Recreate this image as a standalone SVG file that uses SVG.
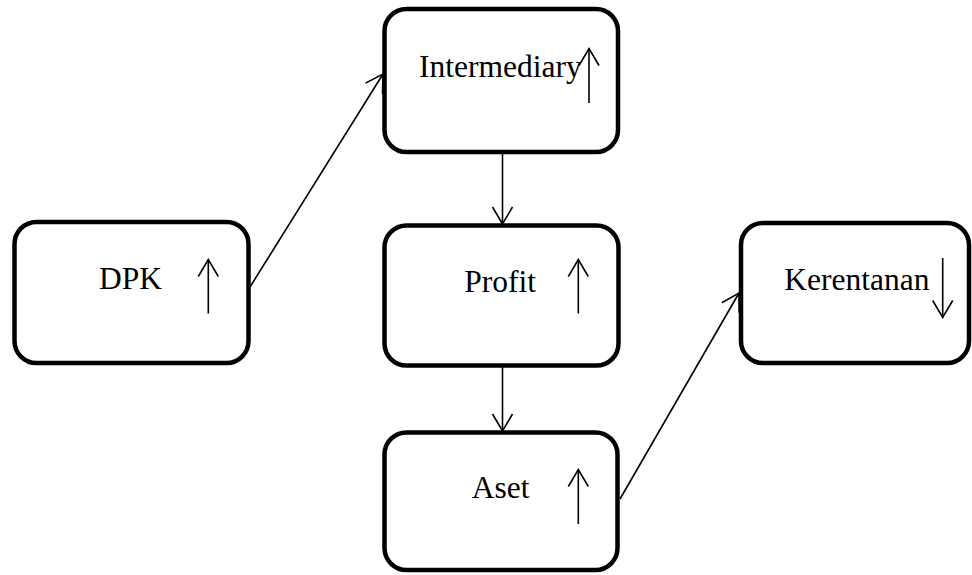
<svg xmlns="http://www.w3.org/2000/svg" width="972" height="575" viewBox="0 0 972 575">
<defs>
<style>
.box{fill:#fff;stroke:#000;stroke-width:4.5}
.lbl{font-family:"Liberation Serif","Times New Roman",serif;font-size:31.5px;fill:#000}
.arr{stroke:#000;stroke-width:1.6;fill:none;marker-end:url(#head)}
</style>
<marker id="head" markerUnits="userSpaceOnUse" markerWidth="24" markerHeight="24" viewBox="-20 -12 24 24" refX="0" refY="0" orient="auto" overflow="visible">
<path d="M-17,-10 L0,0 L-17,10" fill="none" stroke="#000" stroke-width="1.6"/>
</marker>
</defs>
<rect width="972" height="575" fill="#fff"/>
<g id="connectors">
<line class="arr" x1="250" y1="287" x2="383" y2="74"/>
<line class="arr" x1="502.5" y1="153" x2="502.5" y2="224"/>
<line class="arr" x1="502.5" y1="366" x2="502.5" y2="431"/>
<line class="arr" x1="620" y1="499" x2="739" y2="293"/>
</g>
<g id="node-intermediary">
<rect class="box" x="384.5" y="9" width="233.5" height="143" rx="22"/>
<text class="lbl" x="419" y="77">Intermediary</text>
<line class="arr" x1="589" y1="103" x2="589" y2="48.5"/>
</g>
<g id="node-dpk">
<rect class="box" x="14.5" y="222" width="234" height="141" rx="22"/>
<text class="lbl" x="99" y="289">DPK</text>
<line class="arr" x1="208.3" y1="313.5" x2="208.3" y2="259.5"/>
</g>
<g id="node-profit">
<rect class="box" x="384.5" y="225.5" width="234" height="140" rx="22"/>
<text class="lbl" x="464.3" y="292">Profit</text>
<line class="arr" x1="578.3" y1="313.5" x2="578.3" y2="259.5"/>
</g>
<g id="node-kerentanan">
<rect class="box" x="741" y="223" width="228" height="140" rx="22"/>
<text class="lbl" x="784.3" y="290">Kerentanan</text>
<line class="arr" x1="942.7" y1="258" x2="942.7" y2="317.5"/>
</g>
<g id="node-aset">
<rect class="box" x="384.5" y="432.5" width="233" height="137.5" rx="22"/>
<text class="lbl" x="471.7" y="498">Aset</text>
<line class="arr" x1="578.3" y1="524" x2="578.3" y2="469.5"/>
</g>
</svg>
